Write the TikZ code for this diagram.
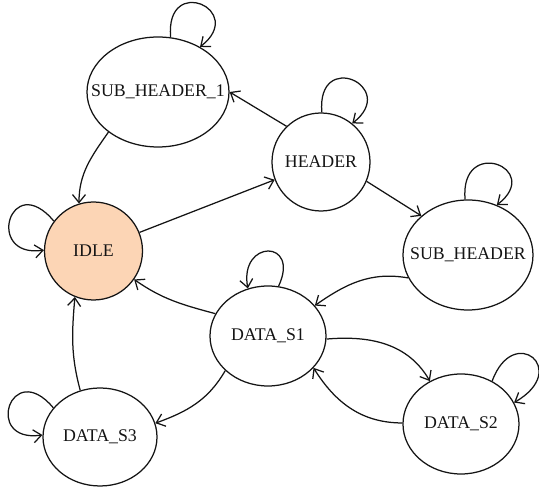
\documentclass[tikz,border=0pt]{standalone}
\usepackage{fontspec}
\setmainfont{Liberation Serif}
\usetikzlibrary{positioning,arrows.meta,shapes.geometric}
\definecolor{fsmPeach}{RGB}{252,213,181}
\definecolor{fsmInk}{RGB}{20,20,20}
\tikzset{
    base/.style={font=\fontsize{17.8}{20}\selectfont, text=fsmInk},
    stnode/.style={base, ellipse, draw=fsmInk, line width=1.25pt, fill=white, inner sep=0pt},
    stidle/.style={stnode, fill=fsmPeach},
    flow/.style={-{Straight Barb[length=8pt,width=13pt]}, line width=1.25pt, draw=fsmInk}
}
\newcommand{\stname}[1]{\makebox[0pt]{#1}}

\begin{document}
\begin{tikzpicture}[x=1pt,y=1pt]
  \useasboundingbox (0,0) rectangle (539,489);

  % States
  \node[stnode, minimum width=142pt, minimum height=110pt] (sh1) at (158,397) {\stname{SUB\_HEADER\_1}};
  \node[stnode, minimum width=98pt, minimum height=98pt] (hdr) at (321,327) {\stname{HEADER}};
  \node[stnode, minimum width=130pt, minimum height=110pt] (sh) at (468,234) {\stname{SUB\_HEADER}};
  \node[stidle, minimum width=98pt, minimum height=98pt] (idle) at (93.5,238) {\stname{IDLE}};
  \node[stnode, minimum width=116pt, minimum height=100pt] (s1) at (268,153) {\stname{DATA\_S1}};
  \node[stnode, minimum width=116pt, minimum height=100pt] (s2) at (461,65) {\stname{DATA\_S2}};
  \node[stnode, minimum width=114pt, minimum height=98pt] (s3) at (100,52) {\stname{DATA\_S3}};

  % Transitions
  \draw[flow] (hdr.134) -- (sh1.east);
  \draw[flow] (sh1.219) to[out=235, in=90] (idle.107);
  \draw[flow] (idle.22) -- (hdr.201);
  \draw[flow] (hdr.337) -- (sh.140);
  \draw[flow] (sh.201) to[out=170, in=35] (s1.33);
  \draw[flow] (s1.157) to[out=165, in=-35] (idle.325);
  \draw[flow] (s1.357) to[out=5, in=120] (s2.126);
  \draw[flow] (s2.179) to[out=180, in=-58] (s1.325);
  \draw[flow] (s1.219) to[out=240, in=20] (s3.14);
  \draw[flow] (s3.113) to[out=105, in=-95] (idle.248);

  % Self loops
  \draw[flow] (sh1.77) .. controls +(95:64) and +(38:60) .. (sh1.47);
  \draw[flow] (hdr.89) .. controls +(95:64) and +(38:60) .. (hdr.51);
  \draw[flow] (sh.93) .. controls +(95:64) and +(38:60) .. (sh.60);
  \draw[flow] (s1.78) .. controls +(65:52) and +(100:50) .. (s1.113);
  \draw[flow] (s2.54) .. controls +(70:62) and +(30:66) .. (s2.22);
  \draw[flow] (idle.143) .. controls +(130:68) and +(188:60) .. (idle.179);
  \draw[flow] (s3.148) .. controls +(130:66) and +(188:60) .. (s3.178);
\end{tikzpicture}
\end{document}
